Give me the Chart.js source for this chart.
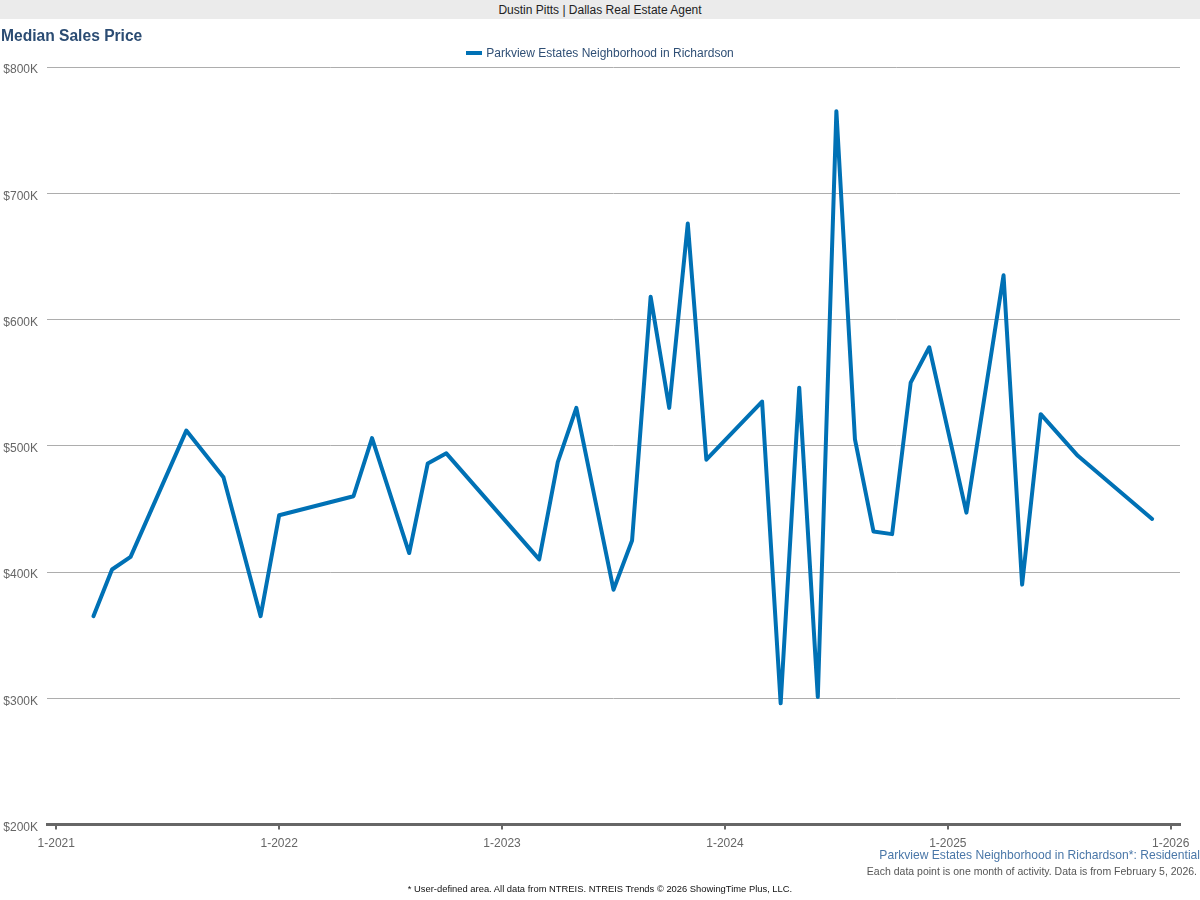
<!DOCTYPE html>
<html><head><meta charset="utf-8">
<script src="https://cdn.jsdelivr.net/npm/chart.js@4.4.1/dist/chart.umd.min.js"></script>
<style>
body{margin:0;width:1200px;height:900px;position:relative;background:#fff;font-family:"Liberation Sans",Arial,sans-serif;overflow:hidden}
#wrap{position:absolute;left:0;top:0;width:1200px;height:900px}
#hdr{position:absolute;left:0;top:0;width:1200px;height:19px;background:#ebebeb;color:#222;font-size:12px;line-height:21px;text-align:center}
#title{position:absolute;left:1px;top:27px;font-size:15.6px;line-height:18px;font-weight:bold;color:#2b4c73}
#legend{position:absolute;top:46px;left:0;width:1200px;text-align:center;font-size:12px;line-height:14px;color:#2f4f75}
#legend .sw{display:inline-block;width:16px;height:4px;vertical-align:middle;margin-right:4px;position:relative;top:-1px}
.ft{position:absolute;white-space:nowrap}
#f1{right:0;top:848px;font-size:12.1px;line-height:14px;color:#4a77a8}
#f2{right:3px;top:865px;font-size:10.5px;line-height:13px;color:#555}
#f3{left:0;width:1200px;text-align:center;top:883px;font-size:9.4px;line-height:12px;color:#111}
</style></head>
<body>
<div id="wrap"><canvas id="c" width="1200" height="900"></canvas></div>
<div id="hdr">Dustin Pitts | Dallas Real Estate Agent</div>
<div id="title">Median Sales Price</div>
<div id="legend"></div>
<div class="ft" id="f1">Parkview Estates Neighborhood in Richardson*: Residential</div>
<div class="ft" id="f2">Each data point is one month of activity. Data is from February 5, 2026.</div>
<div class="ft" id="f3">* User-defined area. All data from NTREIS. NTREIS Trends © 2026 ShowingTime Plus, LLC.</div>
<script>
const seriesName = 'Parkview Estates Neighborhood in Richardson';
const months = ['2021-03','2021-04','2021-05','2021-08','2021-10','2021-12','2022-01','2022-05','2022-06','2022-08','2022-09','2022-10','2023-03','2023-04','2023-05','2023-07','2023-08','2023-09','2023-10','2023-11','2023-12','2024-03','2024-04','2024-05','2024-06','2024-07','2024-08','2024-09','2024-10','2024-11','2024-12','2025-02','2025-04','2025-05','2025-06','2025-08','2025-12'];
const medianPrice = [365000,402000,412000,512000,475000,365000,445000,460000,506000,415000,486000,494000,410000,487000,530000,386000,425000,618000,530000,676000,489000,535000,296000,546000,301000,765000,505000,432000,430000,550000,578000,447000,635000,390000,525000,492000,442000];
const xTickLabels = ['1-2021','1-2022','1-2023','1-2024','1-2025','1-2026'];
const yTickValues = [200000,300000,400000,500000,600000,700000,800000];

const lineColor = '#0071b5';
const monthIndex = m => { const [y, mo] = m.split('-').map(Number); return (y - 2021) * 12 + (mo - 1); };
const points = months.map((m, i) => ({ x: monthIndex(m), y: medianPrice[i] }));

const chart = new Chart(document.getElementById('c'), {
  type: 'line',
  data: { datasets: [{ label: seriesName, data: points, borderColor: lineColor, backgroundColor: lineColor,
    borderWidth: 4, pointRadius: 0, tension: 0, borderJoinStyle: 'round', borderCapStyle: 'round' }] },
  options: {
    responsive: false, animation: false, devicePixelRatio: 1,
    layout: { padding: { top: 67, left: 0, right: 20, bottom: 45.5 } },
    plugins: { legend: { display: false }, title: { display: false }, tooltip: { enabled: false } },
    scales: {
      x: {
        type: 'linear', min: -0.5, max: 60.5,
        afterBuildTicks: s => { s.ticks = xTickLabels.map((_, i) => ({ value: i * 12 })); },
        afterFit: s => { s.height = 30; },
        ticks: { autoSkip: false, maxRotation: 0, padding: 7, color: '#666',
          font: { family: '"Liberation Sans", Arial, sans-serif', size: 12 },
          callback: v => xTickLabels[Math.round(v / 12)] },
        grid: { drawOnChartArea: false, drawTicks: true, tickLength: 5, color: '#666', lineWidth: 2 },
        border: { display: true, color: '#666', width: 3 }
      },
      y: {
        min: 200000, max: 800000,
        afterBuildTicks: s => { s.ticks = yTickValues.map(v => ({ value: v })); },
        afterFit: s => { s.width = 47; },
        ticks: { padding: 9, labelOffset: 3, color: '#666',
          font: { family: '"Liberation Sans", Arial, sans-serif', size: 12 },
          callback: v => '$' + (v / 1000) + 'K' },
        grid: { color: '#adadad', lineWidth: 1, drawTicks: false },
        border: { display: false }
      }
    }
  }
});

const lg = document.getElementById('legend');
chart.data.datasets.forEach(ds => {
  const sw = document.createElement('span'); sw.className = 'sw'; sw.style.background = ds.borderColor;
  lg.appendChild(sw); lg.appendChild(document.createTextNode(ds.label));
});
</script>
</body></html>
